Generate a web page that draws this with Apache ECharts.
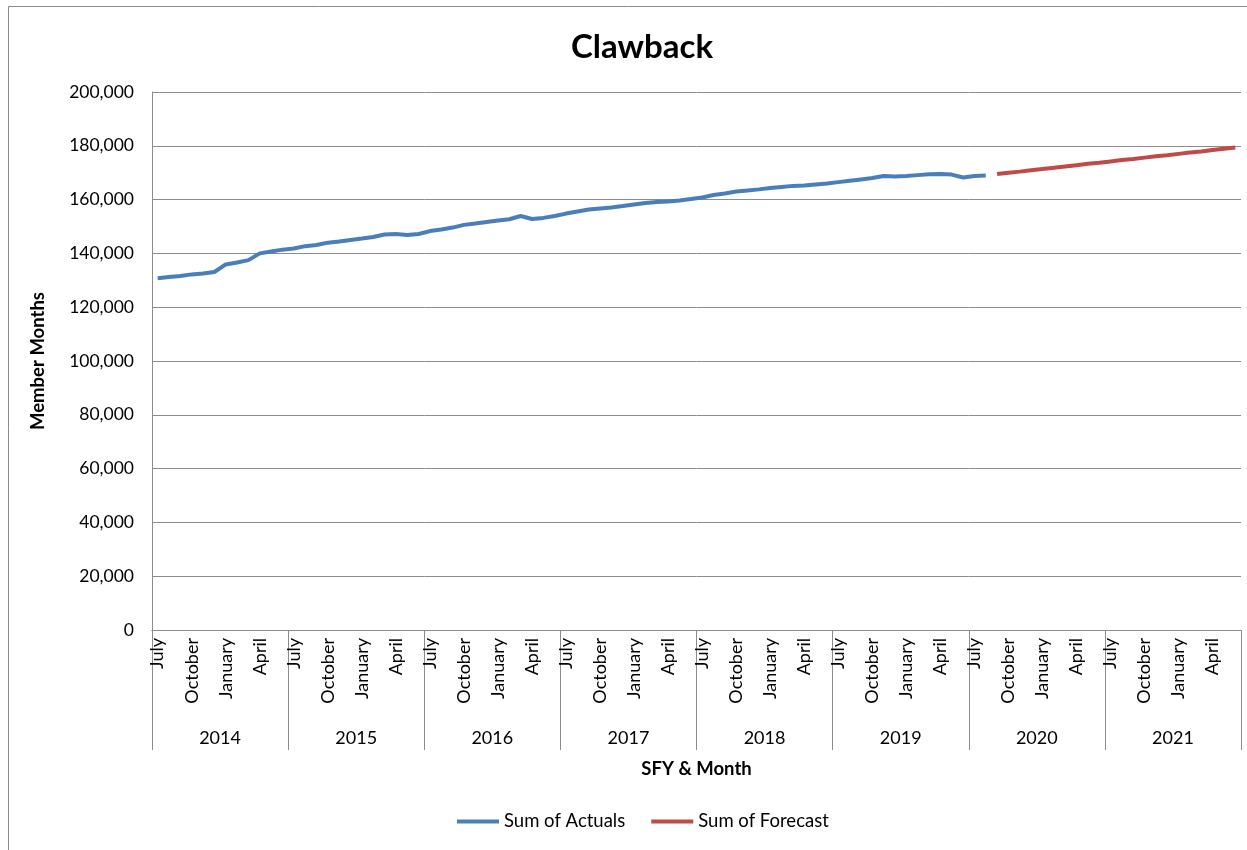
<!DOCTYPE html>
<html>
<head>
<meta charset="utf-8">
<title>Clawback</title>
<script src="https://cdn.jsdelivr.net/npm/echarts@6/dist/echarts.min.js"></script>
<style>
  html, body { margin: 0; padding: 0; background: #fff; }
  #chart { width: 1247px; height: 850px; }
</style>
</head>
<body>
<div id="chart"></div>
<script>
// fiscal years, each one July..June
const years = ['2014', '2015', '2016', '2017', '2018', '2019', '2020', '2021']
const monthNames = ['July', 'August', 'September', 'October', 'November', 'December',
  'January', 'February', 'March', 'April', 'May', 'June']
const months = years.flatMap(() => monthNames)

// member months, July 2014 .. August 2019
const actuals = [
  130800, 131200, 131600, 132200, 132500, 133100, 135900, 136600, 137500, 140000, 140700, 141400,
  141800, 142700, 143100, 144000, 144400, 145000, 145500, 146100, 147000, 147200, 146800, 147200,
  148300, 148900, 149600, 150600, 151100, 151700, 152200, 152700, 153900, 152800, 153200, 153900,
  154800, 155600, 156300, 156700, 157100, 157600, 158200, 158700, 159100, 159300, 159700, 160200,
  160800, 161700, 162300, 163000, 163400, 163800, 164300, 164700, 165100, 165200, 165600, 166000,
  166500, 167000, 167500, 168000, 168800, 168600, 168800, 169100, 169400, 169500, 169300, 168200,
  168800, 169000
]
// September 2019 .. June 2021
const forecast = [
  169500, 170000, 170400, 170900, 171400, 171800, 172300, 172800, 173300, 173700, 174200,
  174700, 175100, 175600, 176100, 176500, 177000, 177500, 177900, 178400, 178900, 179400
]

const actualsData = months.map((m, i) => (i < actuals.length ? actuals[i] : null))
const forecastData = months.map((m, i) => {
  const k = i - (months.length - forecast.length)
  return k >= 0 ? forecast[k] : null
})

const font = 'Lato, "Liberation Sans", sans-serif'
const chart = echarts.init(document.getElementById('chart'))
chart.setOption({
  animation: false,
  textStyle: { fontFamily: font, color: '#000' },
  title: {
    text: 'Clawback',
    left: 637,
    textAlign: 'center',
    top: 26,
    textStyle: { fontSize: 33, fontWeight: 'bold', color: '#000', fontFamily: font }
  },
  graphic: [{
    type: 'rect',
    shape: { x: 8.5, y: 6.5, width: 1300, height: 900 },
    style: { fill: 'none', stroke: '#8c8c8c', lineWidth: 1 },
    silent: true
  }],
  legend: {
    bottom: 14,
    left: 452,
    itemWidth: 42,
    itemHeight: 4,
    itemGap: 26,
    icon: 'rect',
    textStyle: { fontSize: 18.5, color: '#000', fontFamily: font },
    data: ['Sum of Actuals', 'Sum of Forecast']
  },
  grid: { left: 152, right: 6, top: 92, bottom: 220 },
  xAxis: [
    {
      type: 'category',
      data: months,
      axisLine: { lineStyle: { color: '#8c8c8c' } },
      axisTick: { show: false },
      axisLabel: {
        interval: 2,
        rotate: 90,
        fontSize: 18,
        margin: 8,
        color: '#000'
      }
    },
    {
      type: 'category',
      data: years,
      position: 'bottom',
      axisLine: { show: true, lineStyle: { color: '#8c8c8c' } },
      axisTick: { show: true, length: 120, lineStyle: { color: '#8c8c8c' } },
      axisLabel: { fontSize: 18, margin: 99, color: '#000' },
      name: 'SFY & Month',
      nameLocation: 'middle',
      nameGap: 130,
      nameTextStyle: { fontSize: 18.5, fontWeight: 'bold', color: '#000' }
    }
  ],
  yAxis: {
    type: 'value',
    min: 0,
    max: 200000,
    interval: 20000,
    axisLine: { show: true, lineStyle: { color: '#8c8c8c' } },
    axisTick: { show: false },
    splitLine: { lineStyle: { color: '#8c8c8c' } },
    axisLabel: {
      fontSize: 17.5,
      margin: 18,
      color: '#000',
      formatter: v => v.toLocaleString('en-US')
    },
    name: 'Member Months',
    nameLocation: 'middle',
    nameRotate: 90,
    nameGap: 104,
    nameTextStyle: { fontSize: 18.5, fontWeight: 'bold', color: '#000' }
  },
  series: [
    {
      name: 'Sum of Actuals',
      type: 'line',
      xAxisIndex: 0,
      data: actualsData,
      showSymbol: false,
      symbol: 'none',
      color: '#4a7ebb',
      lineStyle: { width: 4, color: '#4a7ebb' }
    },
    {
      name: 'Sum of Forecast',
      type: 'line',
      xAxisIndex: 0,
      data: forecastData,
      showSymbol: false,
      symbol: 'none',
      color: '#be4b48',
      lineStyle: { width: 4, color: '#be4b48' }
    }
  ]
})
</script>
</body>
</html>
